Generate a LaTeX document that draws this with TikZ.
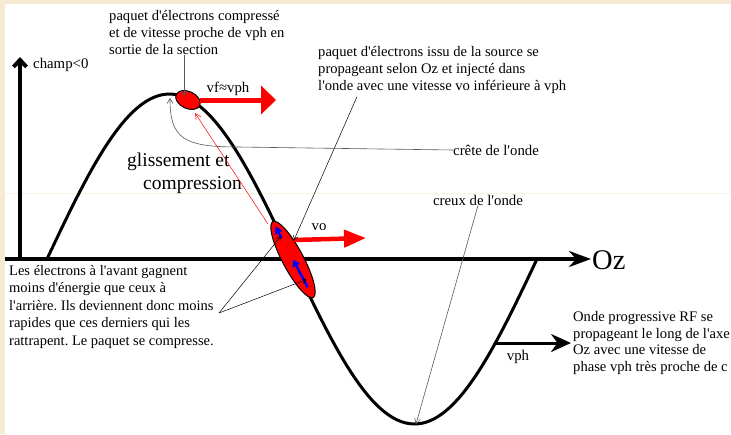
\documentclass[tikz,border=0pt]{standalone}
\usepackage{fontspec}
\setmainfont{Liberation Serif}[Ligatures=TeXOff]
\usetikzlibrary{arrows.meta,shapes.geometric,calc}
\frenchspacing

\definecolor{paper}{RGB}{246,234,211}

\begin{document}
\begin{tikzpicture}[x=1pt,y=-1pt,
    wave/.style={line width=3pt, line join=round},
    axe/.style={line width=4pt, -{Stealth[length=22pt,width=16pt]}},
    yaxe/.style={line width=4pt, -{Straight Barb[length=7pt,width=13pt]}},
    bunch/.style={ellipse, draw, line width=1pt, fill=red, inner sep=0},
    fast/.style={red, line width=5pt, -{Triangle[length=15pt,width=28pt]}},
    vgroup/.style={line width=3pt, -{Stealth[length=20pt,width=18pt]}},
    push/.style={blue, line width=2.5pt, -{Triangle[length=7pt,width=8pt]}},
    callout/.style={gray!70!black, line width=0.6pt, -{Straight Barb[length=5pt,width=6pt]}},
    pointer/.style={black, line width=0.5pt, -{Straight Barb[length=4pt,width=5pt]}},
    glide/.style={red, line width=0.5pt, -{Straight Barb[length=6pt,width=6pt]}},
    txt/.style={font=\fontsize{14.6}{17}\selectfont, align=left, inner sep=0, anchor=north west},
    lbl/.style={font=\fontsize{14.8}{16}\selectfont, inner sep=0}
]
\useasboundingbox (0,0) rectangle (731,434);
\fill[paper] (0,0) rectangle (731,434);
\fill[white] (5,4) rectangle (731,434);
\draw[paper!60, line width=0.6pt] (5,193) -- (731,193);

\coordinate (O) at (5,259);
\coordinate (zend) at (591,259);
\coordinate (ybase) at (20,259);
\coordinate (ytop) at (20,57);
\coordinate (crest) at (170,98);
\coordinate (trough) at (416,424);
\coordinate (vfend) at (276,100);
\coordinate (voend) at (366,238);
\coordinate (pqfront) at (294,240);
\coordinate (vphstart) at (496,343);
\coordinate (vphend) at (571,343);
\coordinate (glA) at (268,224);
\coordinate (glB) at (195,113);
\coordinate (avant) at (219,313);

\draw[wave] plot[domain=47:537, samples=120] (\x, {259-165*sin((\x-47)/490*360)});
\draw[axe] (O) -- (zend);
\draw[yaxe] (ybase) -- (ytop);

\node[bunch, minimum width=26pt, minimum height=17pt, rotate=-25] (pk) at (188,100) {};
\node[bunch, minimum width=86pt, minimum height=21pt, rotate=-62] (pq) at (293,259.5) {};

\node[lbl, anchor=west] (champ) at (33,65) {champ<0};
\node[lbl] (vf) at (228,89) {vf≈vph};
\node[lbl] (vo) at (319,227) {vo};
\node[lbl] (vph) at (518,357) {vph};
\node[lbl, anchor=west] (crete) at (453,150) {crête de l'onde};
\node[lbl] (creux) at (478,200) {creux de l'onde};
\node[font=\fontsize{19.5}{23}\selectfont, align=left, inner sep=0, anchor=north west] (gliss) at (127,153) {glissement et\\ \hspace*{16pt}compression};
\node[font=\fontsize{28.5}{28}\selectfont, inner sep=0, anchor=west] (oz) at (592,260) {Oz};

\node[txt] (top) at (109,10) {paquet d'électrons compressé\\ et de vitesse proche de vph en\\ sortie de la section};
\node[txt] (issu) at (318,46) {paquet d'électrons issu de la source se\\ propageant selon Oz et injecté dans\\ l'onde avec une vitesse vo inférieure à vph};
\node[txt, font=\fontsize{14.5}{17.5}\selectfont] (avtxt) at (9,265) {Les électrons à l'avant gagnent\\ moins d'énergie que ceux à\\ l'arrière. Ils deviennent donc moins\\ rapides que ces derniers qui les\\ rattrapent. Le paquet se compresse.};
\node[txt, font=\fontsize{14.6}{16.7}\selectfont] (onde) at (573,311) {Onde progressive RF se\\ propageant le long de l'axe\\ Oz avec une vitesse de\\ phase vph très proche de c};

\draw[fast] (pk) -- (vfend);
\draw[fast, line width=4.5pt, -{Triangle[length=22pt,width=17pt]}] (pqfront) -- (voend);
\draw[vgroup] (vphstart) -- (vphend);
\draw[push] ($(pq.west)!0.22!(pq.east)$) -- ($(pq.west)!0.07!(pq.east)$);
\draw[push] ($(pq.west)!0.86!(pq.east)$) -- ($(pq.west)!0.5!(pq.east)$);
\draw[glide] (glA) -- (glB);

\draw[callout] (top.south -| 184,0) -- (184,96);
\draw[callout] (crete.west) -- ++(-215,-3) .. controls +(-55,0) and +(0,40) .. (crest);
\draw[callout] (creux.south) -- (trough);
\draw[pointer] ($(issu.south west)+(39,3)$) -- (pqfront);
\draw[pointer] (avant) -- ($(pq.west)!0.2!(pq.east)$);
\draw[pointer] (avant) -- ($(pq.west)!0.76!(pq.east)+(3,0)$);
\end{tikzpicture}
\end{document}
